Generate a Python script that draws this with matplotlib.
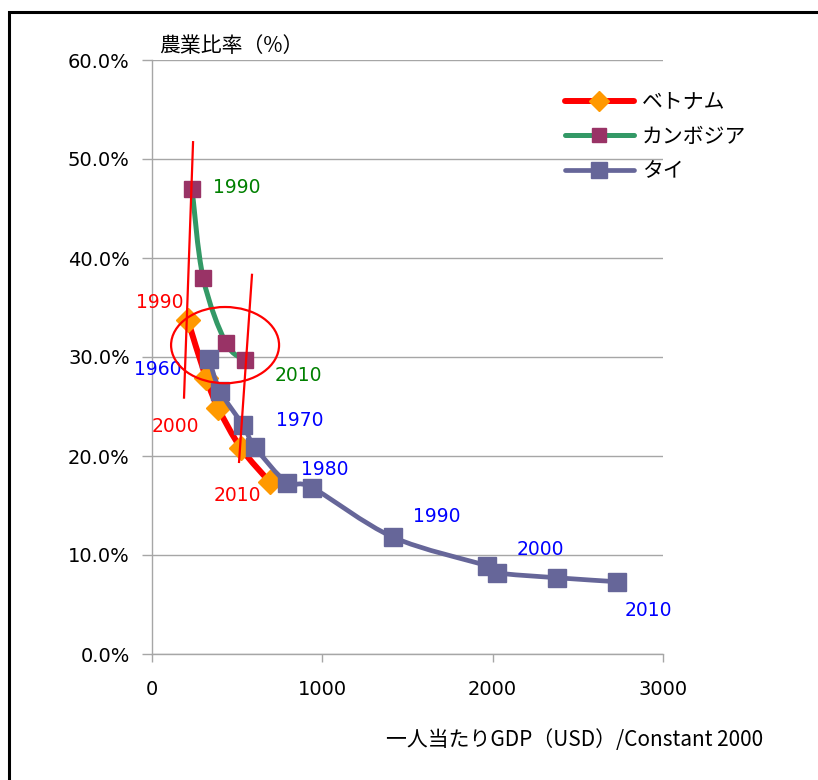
import matplotlib
matplotlib.use("Agg")
import matplotlib.pyplot as plt
import matplotlib.patches as mpatches
from matplotlib.path import Path
from matplotlib.ticker import FuncFormatter

plt.rcParams["font.family"] = ["Noto Sans CJK JP", "DejaVu Sans"]

# ── Data: GDP per capita (USD, constant 2000) vs agriculture share (%) ────────
vn_gdp   = [211, 317, 390, 522, 690]
vn_agri  = [33.7, 27.9, 24.8, 20.8, 17.4]
vn_years = {0: "1990", 2: "2000", 4: "2010"}

kh_gdp   = [235, 300, 434, 546]
kh_agri  = [47.0, 38.0, 31.4, 29.7]
kh_years = {0: "1990", 3: "2010"}

th_gdp   = [335, 399, 534, 605, 793, 940, 1415, 1967, 2026, 2378, 2730]
th_agri  = [29.8, 26.6, 23.1, 20.9, 17.3, 16.8, 11.8, 8.9, 8.2, 7.7, 7.3]
th_years = {0: "1960", 2: "1970", 4: "1980", 6: "1990", 8: "2000", 10: "2010"}

x_ticks = [0, 1000, 2000, 3000]
y_ticks = [0, 10, 20, 30, 40, 50, 60]

# label offsets from the marker, in pixels
vn_offsets = {0: (-28, 18), 2: (-43, -18), 4: (-32, -14)}
kh_offsets = {0: (45, 1), 3: (53, -16)}
th_offsets = {0: (-51, -11), 2: (57, 5), 4: (38, 13), 6: (44, 21),
              8: (43, 23), 10: (31, -29)}

RED     = "#FF0000"
ORANGE  = "#FF9900"
GREEN   = "#339966"
PLUM    = "#993366"
SLATE   = "#666699"
GRID    = "#A6A6A6"


def smooth_path(xs, ys):
    """Excel-style smoothed line: cubic Bezier through every point."""
    pts = list(zip(xs, ys))
    n = len(pts)
    verts = [pts[0]]
    codes = [Path.MOVETO]
    for i in range(n - 1):
        p0 = pts[i - 1] if i > 0 else pts[i]
        p1 = pts[i]
        p2 = pts[i + 1]
        p3 = pts[i + 2] if i + 2 < n else pts[i + 1]
        c1 = (p1[0] + (p2[0] - p0[0]) / 6, p1[1] + (p2[1] - p0[1]) / 6)
        c2 = (p2[0] - (p3[0] - p1[0]) / 6, p2[1] - (p3[1] - p1[1]) / 6)
        verts += [c1, c2, p2]
        codes += [Path.CURVE4] * 3
    return Path(verts, codes)


fig = plt.figure(figsize=(8.18, 7.8), dpi=100, facecolor="white")
ax = fig.add_axes([152 / 818, 1 - 654 / 780, 511 / 818, 594 / 780])

series = [
    (vn_gdp, vn_agri, RED, 4.3, "D", 12.0, ORANGE, "ベトナム", vn_years, vn_offsets, RED),
    (kh_gdp, kh_agri, GREEN, 3.6, "s", 11.5, PLUM, "カンボジア", kh_years, kh_offsets, "#008000"),
    (th_gdp, th_agri, SLATE, 3.4, "s", 13.5, SLATE, "タイ", th_years, th_offsets, "#0000FF"),
]

handles = []
for z, (xs, ys, lc, lw, mk, ms, mc, name, years, offs, tc) in enumerate(series):
    ax.add_patch(mpatches.PathPatch(smooth_path(xs, ys), facecolor="none",
                                    edgecolor=lc, linewidth=lw,
                                    capstyle="round", zorder=3 + 2 * z))
    ax.plot(xs, ys, linestyle="none", marker=mk, markersize=ms,
            markerfacecolor=mc, markeredgecolor=mc, zorder=4 + 2 * z)
    handles.append(plt.Line2D([], [], color=lc, linewidth=lw, marker=mk,
                              markersize=ms * 0.85, markerfacecolor=mc,
                              markeredgecolor=mc, solid_capstyle="round"))
    for i, year in years.items():
        ax.annotate(year, (xs[i], ys[i]), xytext=offs[i],
                    textcoords="offset pixels", ha="center", va="center",
                    fontsize=13.5, color=tc, family="DejaVu Sans", zorder=10)

# hand-drawn highlights around the crossover
ax.add_patch(mpatches.Ellipse((429, 31.2), 634, 7.7, fill=False,
                              edgecolor=RED, linewidth=1.6, zorder=12))
ax.plot([241, 188], [51.7, 25.9], color=RED, linewidth=1.6, zorder=12)
ax.plot([587, 511], [38.3, 19.4], color=RED, linewidth=1.6, zorder=12)

# ── Axes styling ──────────────────────────────────────────────────────────────
ax.set_xlim(0, 3000)
ax.set_ylim(0, 60)
ax.set_xticks(x_ticks)
ax.set_yticks(y_ticks)
ax.yaxis.set_major_formatter(FuncFormatter(lambda v, _: f"{v:.1f}%"))
ax.grid(axis="y", color=GRID, linewidth=1.0, zorder=0)
ax.set_axisbelow(True)
for side in ("top", "right"):
    ax.spines[side].set_visible(False)
for side in ("left", "bottom"):
    ax.spines[side].set_color(GRID)
    ax.spines[side].set_linewidth(1.0)
ax.tick_params(axis="x", length=6, width=1, color=GRID, pad=13, labelsize=14)
ax.tick_params(axis="y", length=7, width=1, color=GRID, pad=9, labelsize=14)
for lab in ax.get_xticklabels() + ax.get_yticklabels():
    lab.set_family("DejaVu Sans")

fig.text(159 / 818, 1 - 46 / 780, "農業比率（%）", ha="left", va="center",
         fontsize=15)
fig.text(763 / 818, 1 - 740 / 780, "一人当たりGDP（USD）/Constant 2000",
         ha="right", va="center", fontsize=15)

ax.legend(handles, ["ベトナム", "カンボジア", "タイ"], frameon=False,
          loc="upper left", bbox_to_anchor=(565 / 818, 1 - 91 / 780),
          bbox_transform=fig.transFigure, fontsize=15, handlelength=3.3,
          handletextpad=0.4, labelspacing=0.6, borderpad=0, borderaxespad=0)

# outer frame
fig.patches.append(mpatches.Rectangle((9 / 818, -0.1), 1.2, 1.1 - 12 / 780,
                                      transform=fig.transFigure, fill=False,
                                      edgecolor="black", linewidth=2.2))

fig.savefig("out.png", dpi=100, facecolor="white")
